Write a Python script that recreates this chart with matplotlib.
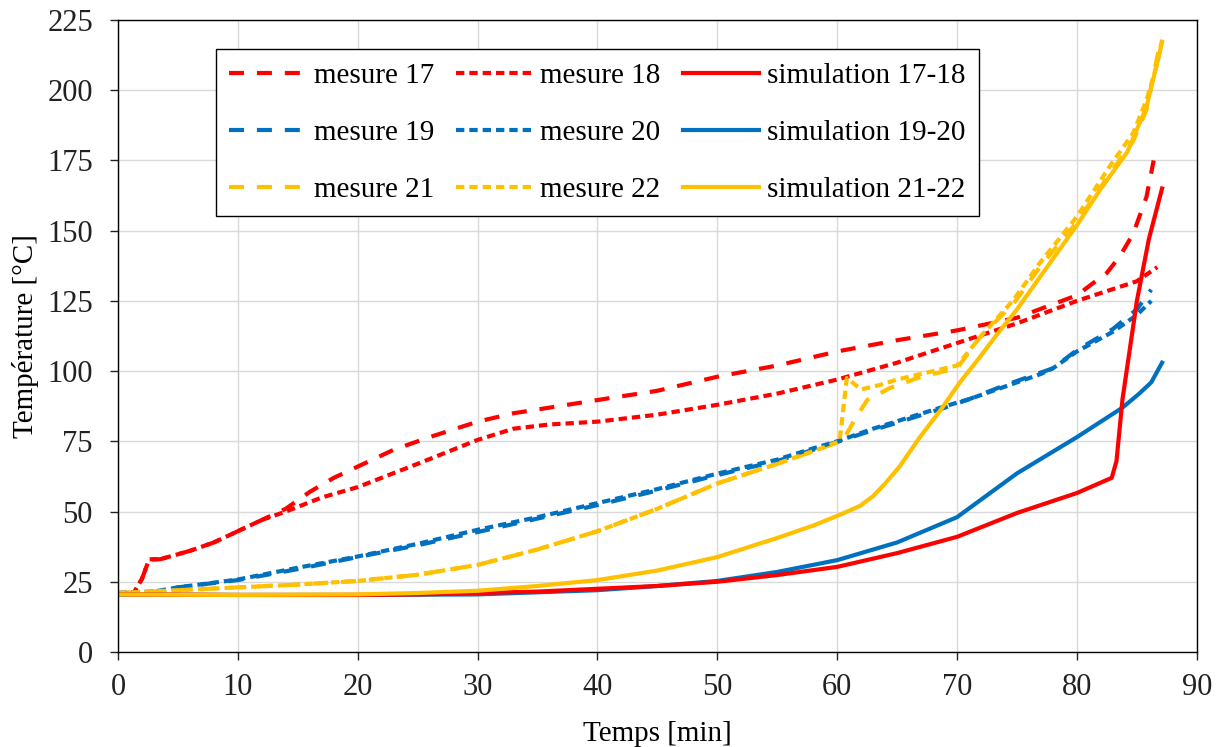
import matplotlib.pyplot as plt

# couleurs des séries
rouge = '#FF0000'
bleu = '#0070C0'
jaune = '#FFC000'

# mesures 17 et 18
m17_t = [0, 1.3, 2.0, 2.6, 3.5, 6, 8, 10, 12, 14, 16, 18, 20, 23, 26, 30, 33, 36, 40, 45, 50, 55, 60, 65, 70, 75, 80, 82.5, 83.6, 84.7, 85.8, 86.4]
m17_y = [21, 21, 26, 33, 33, 36, 39, 43, 47, 51, 57, 62, 66, 72, 76.5, 82, 85, 87, 89.7, 93, 98, 102, 107, 111, 114.5, 119, 127, 135, 141, 149, 162, 175]
m18_t = [0, 1.3, 2.0, 2.6, 3.5, 6, 8, 10, 12, 14, 17, 20, 25, 30, 33, 36, 40, 45, 50, 55, 60, 65, 70, 75, 80, 85, 86.7]
m18_y = [21, 21, 26, 33, 33, 36, 39, 43, 47, 50, 55, 58.7, 67, 75.5, 79.5, 81, 82, 84.5, 88, 92, 97, 103, 110, 117, 125, 132, 137]

# mesures 19 et 20
m19_t = [0, 3, 5, 10, 15, 20, 25, 30, 35, 40, 45, 50, 55, 58, 60, 63, 66, 69, 71, 74, 77, 78, 80, 83, 85, 86.2]
m19_y = [21, 21, 23, 25.6, 29.5, 33.8, 38, 42.7, 47.5, 52.3, 57.5, 63, 68, 72, 74.8, 79, 83, 87, 90, 95, 99.5, 101, 107.5, 115, 122, 129]
m20_t = [0, 3, 5, 10, 15, 20, 25, 30, 35, 40, 45, 50, 55, 58, 60, 63, 66, 69, 71, 74, 77, 78, 80, 83, 85, 86.2]
m20_y = [21, 21.5, 23, 25.8, 30, 34, 38.5, 43.5, 48, 53, 58, 63.5, 68.5, 72.5, 75, 79.5, 83.5, 87.5, 90, 94.5, 99, 101, 107, 114, 120, 125]

# mesures 21 et 22
m21_t = [0, 5, 10, 15, 20, 25, 30, 35, 40, 45, 50, 55, 59, 60.5, 61.5, 62.5, 64.4, 67, 70, 71.9, 74.7, 76.9, 80, 82.7, 84.7, 85.8, 86.8]
m21_y = [21, 22, 23, 24, 25.3, 27.5, 31, 36.5, 43, 51, 60, 67, 73, 75.5, 83, 89.7, 94, 98, 101, 112, 124, 137, 153, 170, 182, 193, 214]
m22_t = [0, 5, 10, 15, 20, 25, 30, 35, 40, 45, 50, 55, 59, 60.2, 60.8, 62, 63.5, 65, 68, 70, 71.9, 74.7, 76.9, 80, 82.7, 84.7, 85.8, 86.6, 87.1]
m22_y = [21, 22, 23, 24, 25.3, 27.5, 31, 36.5, 43, 51, 60, 67, 73, 75, 97.5, 93.5, 95, 97, 100, 102, 112, 125.3, 138.5, 155, 172.7, 184.8, 196.5, 208, 218]

# simulations
s1718_t = [0, 10, 20, 25, 30, 35, 40, 45, 50, 55, 60, 65, 70, 75, 80, 82.9, 83.3, 83.8, 85, 86, 87.1]
s1718_y = [20.5, 20.3, 20.3, 20.5, 21, 21.5, 22.5, 23.5, 25, 27.4, 30.3, 35.2, 41, 49.5, 56.6, 62, 68, 90, 125, 147, 165]
s1920_t = [0, 10, 20, 30, 40, 45, 50, 55, 60, 65, 70, 75, 80, 83.8, 85.2, 86.2, 87.1]
s1920_y = [20.5, 20.3, 20.3, 20.5, 22, 23.5, 25.3, 28.5, 32.7, 39, 48, 63.6, 76.5, 87, 92, 96, 103]
s2122_t = [0, 10, 20, 25, 30, 35, 40, 45, 50, 55, 58, 60.2, 61.9, 63, 64, 65.2, 66.9, 68.6, 70.2, 71.9, 73.5, 75, 77, 80, 82, 84.2, 85.8, 87.1]
s2122_y = [20.5, 20.3, 20.5, 21, 21.8, 23.5, 25.6, 29, 33.8, 40.6, 45, 48.8, 52, 55.5, 60, 66, 76.5, 86, 95.8, 105, 114, 122, 134, 152, 165, 178, 194, 217]

plt.rcParams['font.family'] = ['Liberation Serif', 'DejaVu Serif']

fig = plt.figure(figsize=(12.2, 7.47), dpi=100)
ax = fig.add_axes([0.0967, 0.1272, 0.8843, 0.846])

lw = 3.0
long_dash = (3.6, 3.1)
short_dash = (2.0, 1.2)

# ordre pour la légende (remplissage par colonne)
l17, = ax.plot(m17_t, m17_y, color=rouge, lw=lw, dashes=long_dash, label='mesure 17')
l19, = ax.plot(m19_t, m19_y, color=bleu, lw=lw, dashes=long_dash, label='mesure 19')
l21, = ax.plot(m21_t, m21_y, color=jaune, lw=lw, dashes=long_dash, label='mesure 21')
l18, = ax.plot(m18_t, m18_y, color=rouge, lw=lw, dashes=short_dash, label='mesure 18')
l20, = ax.plot(m20_t, m20_y, color=bleu, lw=lw, dashes=short_dash, label='mesure 20')
l22, = ax.plot(m22_t, m22_y, color=jaune, lw=lw, dashes=short_dash, label='mesure 22')
ls2, = ax.plot(s1920_t, s1920_y, color=bleu, lw=lw, label='simulation 19-20')
ls1, = ax.plot(s1718_t, s1718_y, color=rouge, lw=lw, label='simulation 17-18')
ls3, = ax.plot(s2122_t, s2122_y, color=jaune, lw=lw, label='simulation 21-22')

ax.set_xlim(0, 90)
ax.set_ylim(0, 225)
ax.set_xticks(range(0, 91, 10))
ax.set_yticks(range(0, 226, 25))
ax.grid(True, color='#d9d9d9', lw=1)
ax.set_axisbelow(True)
for s in ax.spines.values():
    s.set_linewidth(1.0)
    s.set_color('black')
ax.tick_params(direction='out', length=6, width=1, labelsize=22, colors='#222222')
ax.tick_params(axis='x', pad=9)
ax.tick_params(axis='y', pad=12)

ax.set_xlabel('Temps [min]', fontsize=21, labelpad=14)
ax.set_ylabel('Température [°C]', fontsize=21, labelpad=6)

handles = [l17, l19, l21, l18, l20, l22, ls1, ls2, ls3]
leg = ax.legend(handles=handles, ncol=3, loc='upper left', bbox_to_anchor=(0.177, 0.934),
                bbox_transform=fig.transFigure, fontsize=21, frameon=True, fancybox=False,
                edgecolor='black', framealpha=1, handlelength=2.6, handletextpad=0.3,
                columnspacing=0.75, labelspacing=1.05, borderpad=0.45, borderaxespad=0)
leg.get_frame().set_linewidth(1.0)

plt.savefig('out.png', dpi=100)
